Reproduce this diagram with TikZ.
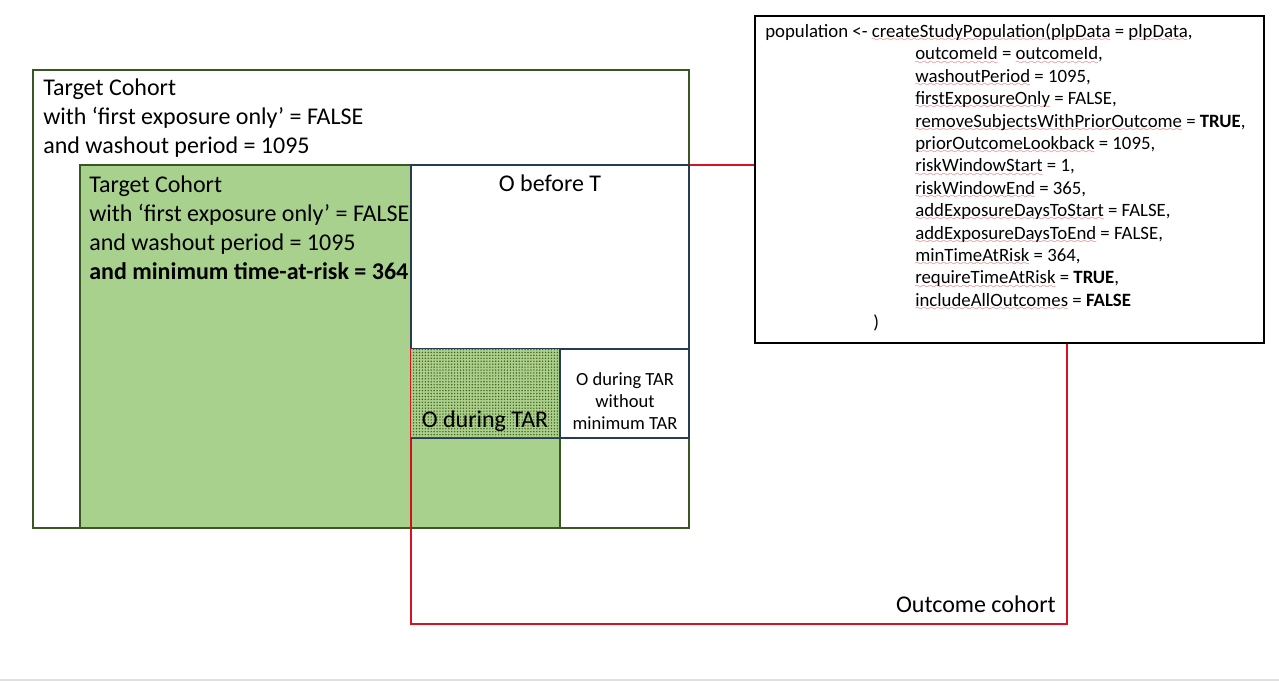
\documentclass[tikz,border=0pt]{standalone}
\usepackage{fontspec}
\setmainfont{Carlito}
\usetikzlibrary{fit,patterns}
\definecolor{tgreen}{HTML}{A9D18E}
\definecolor{dgreen}{HTML}{385723}
\definecolor{dblue}{HTML}{263C50}
\definecolor{ored}{HTML}{D8121E}
\definecolor{sqred}{HTML}{E04848}
\definecolor{dotc}{HTML}{4E5E18}
\font\sqfont=lasy6
\newcommand\sq[1]{\setbox0\hbox{#1}\rlap{\raisebox{-3.2pt}[0pt][0pt]{\hbox to \wd0{\color{sqred}\xleaders\hbox{\sqfont\char58}\hfil}}}\box0\relax}
\pgfdeclarepatternformonly{finedots}{\pgfqpoint{-1pt}{-1pt}}{\pgfqpoint{1pt}{1pt}}{\pgfqpoint{2.2pt}{2.2pt}}{\pgfpathcircle{\pgfqpoint{0pt}{0pt}}{0.6pt}\pgfusepath{fill}}
\newcommand\fmain{\fontsize{18}{21.75}\selectfont}
\newcommand\fsmall{\fontsize{13.9}{16.5}\selectfont}
\newcommand\fcode{\fontsize{14.1}{16.8}\selectfont}
\begin{document}
\begin{tikzpicture}[x=0.75pt,y=-0.75pt,
  region/.style={fit={#1}, inner sep=0pt, line width=0.8pt},
  txt/.style={inner sep=0pt, anchor=base west, font=\fmain},
  ctxt/.style={inner sep=0pt, anchor=base, font=\fmain},
  code/.style={inner sep=0pt, anchor=base west, font=\fcode}]
\useasboundingbox (0,0) rectangle (1279,681);
\fill[white] (0,0) rectangle (1279,681);
\draw[gray!25, line width=1pt] (0,680) -- (1279,680);
% outcome cohort region
\node[region={(411,165) (1067,624)}, draw=ored] (outcome) {};
% target cohort (outer)
\node[region={(33,70) (689,528)}, draw=dgreen, fill=white] (outer) {};
% target cohort with min TAR
\node[region={(80,165) (411,528)}, draw=dgreen, fill=tgreen] (green) {};
% O before T
\node[region={(411,165) (689,349)}, draw=dblue, fill=white] (obefore) {};
% O during TAR
\node[region={(411,349) (560,438)}, fill=tgreen] (tar) {};
\fill[pattern=finedots, pattern color=dotc] (tar.north west) rectangle (tar.south east);
\node[region={(411,438) (560,528)}, draw=dgreen, fill=tgreen] (lowgreen) {};
\node[region={(560,438) (689,528)}, draw=dgreen] (lowwhite) {};
\node[region={(560,349) (689,438)}, draw=dblue, fill=white] (nomin) {};
\draw[dblue, line width=0.8pt] (tar.north west) -- (tar.north east);
\draw[dblue, line width=0.8pt] (tar.south west) -- (nomin.south east);
\draw[ored, line width=0.8pt] (outcome.south west) -- (tar.north west);
% code box
\node[region={(755,16) (1264,343)}, draw=black, fill=white, line width=1pt] (codebox) {};

% texts outer
\node[txt] (t1) at (43,96) {Target Cohort};
\node[txt] (t2) at (43,125) {with ‘first exposure only’ = FALSE};
\node[txt] (t3) at (43,154) {and washout period = 1095};
% texts green
\node[txt] (g1) at (89,193) {Target Cohort};
\node[txt] (g2) at (89,222) {with ‘first exposure only’ = FALSE};
\node[txt] (g3) at (89,251) {and washout period = 1095};
\node[txt] (g4) at (89,280) {\textbf{and minimum time-at-risk = 364}};
% O texts
\node[ctxt] (ob) at (550,192) {O before T};
\node[ctxt] (od) at (485,427) {O during TAR};
\node[inner sep=0pt, anchor=base, font=\fsmall] (nm1) at (625,385) {O during TAR};
\node[inner sep=0pt, anchor=base, font=\fsmall] (nm2) at (625,407) {without};
\node[inner sep=0pt, anchor=base, font=\fsmall] (nm3) at (625,429) {minimum TAR};
\node[inner sep=0pt, anchor=base east, font=\fmain] (oc) at (1056,612) {Outcome cohort};

% code
\node[code] (c0) at (765,37.5) {population <- \sq{createStudyPopulation(plpData} = \sq{plpData},};
\node[code] (c1) at (915,59.9) {\sq{outcomeId} = \sq{outcomeId},};
\node[code] (c2) at (915,82.3) {\sq{washoutPeriod} = 1095,};
\node[code] (c3) at (915,104.7) {\sq{firstExposureOnly} = FALSE,};
\node[code] (c4) at (915,127.1) {\sq{removeSubjectsWithPriorOutcome} = \textbf{TRUE},};
\node[code] (c5) at (915,149.5) {\sq{priorOutcomeLookback} = 1095,};
\node[code] (c6) at (915,171.9) {\sq{riskWindowStart} = 1,};
\node[code] (c7) at (915,194.3) {\sq{riskWindowEnd} = 365,};
\node[code] (c8) at (915,216.7) {\sq{addExposureDaysToStart} = FALSE,};
\node[code] (c9) at (915,239.1) {\sq{addExposureDaysToEnd} = FALSE,};
\node[code] (c10) at (915,261.5) {\sq{minTimeAtRisk} = 364,};
\node[code] (c11) at (915,283.9) {\sq{requireTimeAtRisk} = \textbf{TRUE},};
\node[code] (c12) at (915,306.3) {\sq{includeAllOutcomes} = \textbf{FALSE}};
\node[code] (c13) at (873,328.7) {)};
\end{tikzpicture}
\end{document}
